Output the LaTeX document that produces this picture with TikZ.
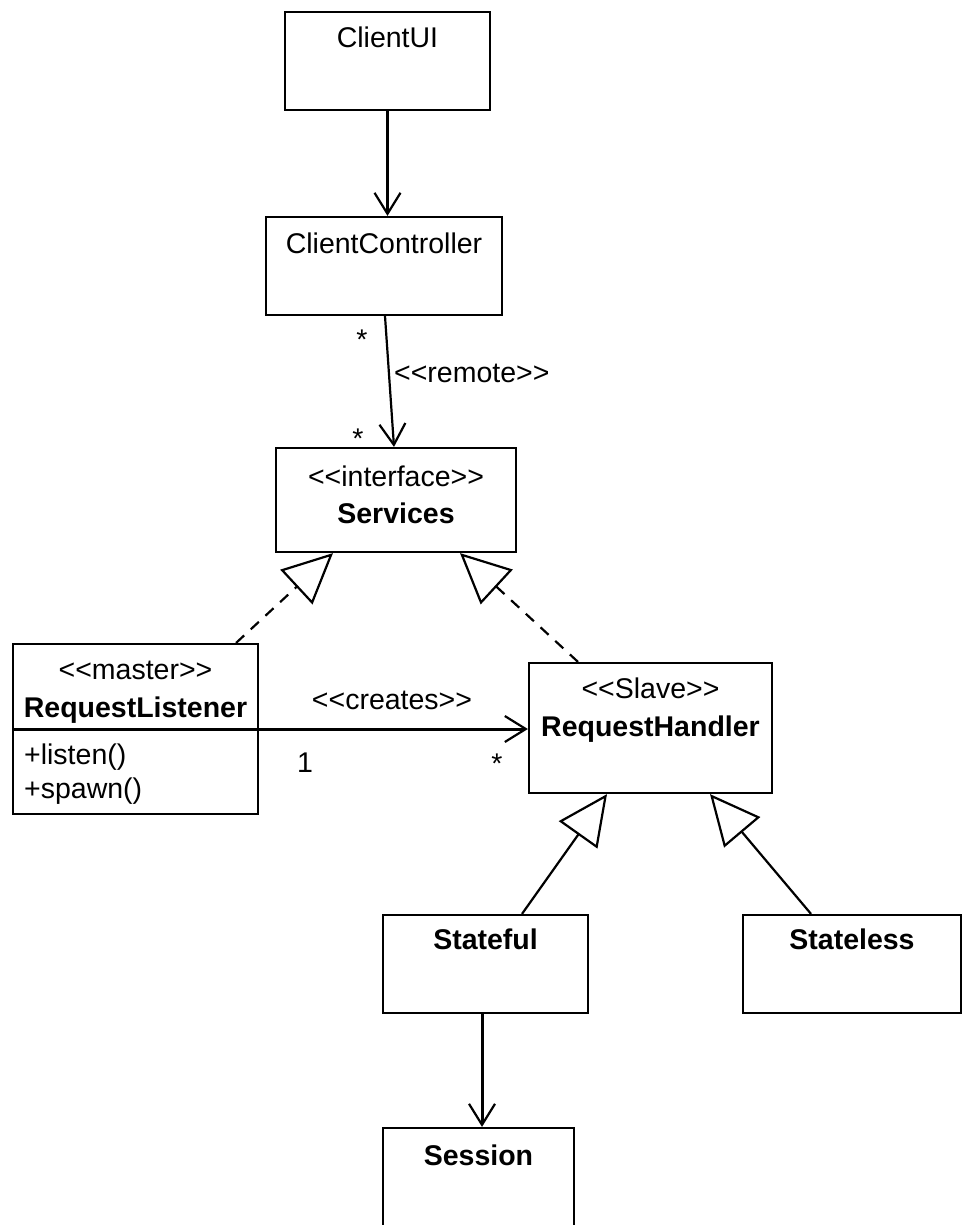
\documentclass[tikz,border=0pt]{standalone}
\usepackage{fontspec}
\setmainfont{Liberation Sans}[Ligatures=TeXOff]
\usetikzlibrary{arrows.meta,calc}
\begin{document}
\begin{tikzpicture}[x=1pt,y=-1pt,
  every node/.style={font=\fontsize{28.5}{34}\selectfont},
  umlbox/.style={draw, rectangle, line width=2.2pt, inner sep=0pt},
  lbl/.style={anchor=base, inner sep=0pt},
  lblw/.style={anchor=base west, inner sep=0pt},
  assoc/.style={line width=2.2pt, -{Straight Barb[length=21pt,width=26pt,line width=2.2pt]}},
  realize/.style={line width=2.2pt, dash pattern=on 11pt off 9pt, -{Triangle[open,length=50pt,width=47pt,line width=2.2pt]}},
  inherit/.style={line width=2.2pt, -{Triangle[open,length=50pt,width=47pt,line width=2.2pt]}},
]
\useasboundingbox (0,0) rectangle (963,1225);
\clip (0,0) rectangle (963,1225);

% class boxes
\node[umlbox, minimum width=205pt, minimum height=98pt]  (ui)  at (387.5,61)   {};
\node[umlbox, minimum width=236pt, minimum height=98pt]  (cc)  at (384,266)    {};
\node[umlbox, minimum width=240pt, minimum height=104pt] (svc) at (396,500)    {};
\node[umlbox, minimum width=245pt, minimum height=170pt] (rl)  at (135.5,729)  {};
\node[umlbox, minimum width=243pt, minimum height=130pt] (rh)  at (650.5,728)  {};
\node[umlbox, minimum width=205pt, minimum height=98pt]  (sf)  at (485.5,964)  {};
\node[umlbox, minimum width=218pt, minimum height=98pt]  (sl)  at (852,964)    {};
\node[umlbox, minimum width=191pt, minimum height=132pt] (ses) at (478.5,1194) {};

% class texts
\node[lbl] (ui-name)  at (387.5,48)  {ClientUI};
\node[lbl] (cc-name)  at (384,253)   {ClientController};
\node[lbl] (svc-st)   at (396,486)   {<<interface>>};
\node[lbl] (svc-name) at (396,523)   {\bfseries Services};
\node[lbl] (rl-st)    at (135.5,679) {<<master>>};
\node[lbl] (rl-name)  at (135.5,717) {\bfseries RequestListener};
\node[lblw] (rl-op1)  at (24,764)    {+listen()};
\node[lblw] (rl-op2)  at (24,798)    {+spawn()};
\node[lbl] (rh-st)    at (650.5,698) {<<Slave>>};
\node[lbl] (rh-name)  at (650.5,736) {\bfseries RequestHandler};
\node[lbl] (sf-name)  at (485.5,949) {\bfseries Stateful};
\node[lbl] (sl-name)  at (852,949)   {\bfseries Stateless};
\node[lbl] (ses-name) at (478.5,1165) {\bfseries Session};

% compartment line of RequestListener
\coordinate (rl-div-w) at (13,729);
\coordinate (rl-div-e) at (258,729);
\draw[line width=3pt] (rl-div-w) -- (rl-div-e);

% associations
\draw[assoc] (ui.south) -- (ui.south |- cc.north);
\draw[assoc] ([xshift=1pt]cc.south) -- ([xshift=-2pt]svc.north);
\draw[assoc, line width=3pt] (rl-div-e) -- (rl-div-e -| rh.west);
\draw[assoc, line width=3pt] ([xshift=-3.5pt]sf.south) -- ([xshift=3.5pt]ses.north);

% realizations
\draw[realize] ([xshift=-23pt]rl.north east) -- ([xshift=-63pt]svc.south);
\draw[realize] ([xshift=-72.5pt]rh.north) -- ([xshift=64pt]svc.south);

% generalizations
\draw[inherit] ([xshift=36.5pt]sf.north) -- ([xshift=-43.5pt]rh.south);
\draw[inherit] ([xshift=-41pt]sl.north) -- ([xshift=59.5pt]rh.south);

% connector labels
\node[lbl] (m-cc)     at (362,349)  {*};
\node[lbl] (m-svc)    at (358,448)  {*};
\node[lblw] (remote)  at (394,382)  {<<remote>>};
\node[lbl] (creates)  at (392,709)  {<<creates>>};
\node[lbl] (m-rl)     at (305,772)  {1};
\node[lbl] (m-rh)     at (497,773)  {*};
\end{tikzpicture}
\end{document}
